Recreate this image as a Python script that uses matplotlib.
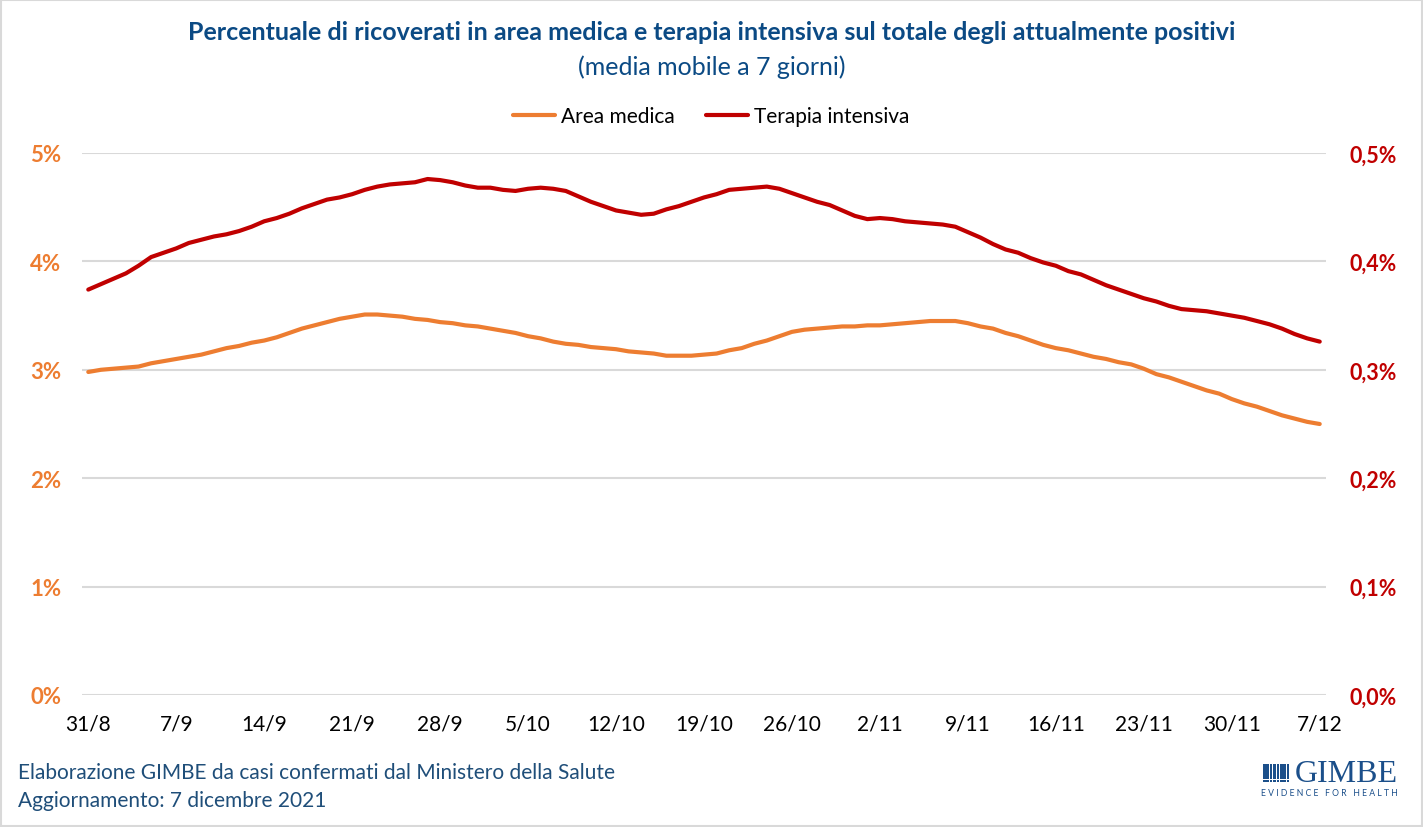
import matplotlib
matplotlib.use('Agg')
import matplotlib.pyplot as plt
import numpy as np
from matplotlib.patches import Rectangle

# Data: 7-day moving average, 31/8/2021 -> 7/12/2021 (one value per day) #

start_date = '2021-08-31'
n_days = 99

area_medica = [2.98, 3.00, 3.01, 3.02, 3.03, 3.06, 3.08, 3.10, 3.12, 3.14,
               3.17, 3.20, 3.22, 3.25, 3.27, 3.30, 3.34, 3.38, 3.41, 3.44,
               3.47, 3.49, 3.51, 3.51, 3.50, 3.49, 3.47, 3.46, 3.44, 3.43,
               3.41, 3.40, 3.38, 3.36, 3.34, 3.31, 3.29, 3.26, 3.24, 3.23,
               3.21, 3.20, 3.19, 3.17, 3.16, 3.15, 3.13, 3.13, 3.13, 3.14,
               3.15, 3.18, 3.20, 3.24, 3.27, 3.31, 3.35, 3.37, 3.38, 3.39,
               3.40, 3.40, 3.41, 3.41, 3.42, 3.43, 3.44, 3.45, 3.45, 3.45,
               3.43, 3.40, 3.38, 3.34, 3.31, 3.27, 3.23, 3.20, 3.18, 3.15,
               3.12, 3.10, 3.07, 3.05, 3.01, 2.96, 2.93, 2.89, 2.85, 2.81,
               2.78, 2.73, 2.69, 2.66, 2.62, 2.58, 2.55, 2.52, 2.50]

terapia_intensiva = [0.374, 0.379, 0.384, 0.389, 0.396, 0.404, 0.408, 0.412, 0.417, 0.420,
                     0.423, 0.425, 0.428, 0.432, 0.437, 0.440, 0.444, 0.449, 0.453, 0.457,
                     0.459, 0.462, 0.466, 0.469, 0.471, 0.472, 0.473, 0.476, 0.475, 0.473,
                     0.470, 0.468, 0.468, 0.466, 0.465, 0.467, 0.468, 0.467, 0.465, 0.460,
                     0.455, 0.451, 0.447, 0.445, 0.443, 0.444, 0.448, 0.451, 0.455, 0.459,
                     0.462, 0.466, 0.467, 0.468, 0.469, 0.467, 0.463, 0.459, 0.455, 0.452,
                     0.447, 0.442, 0.439, 0.440, 0.439, 0.437, 0.436, 0.435, 0.434, 0.432,
                     0.427, 0.422, 0.416, 0.411, 0.408, 0.403, 0.399, 0.396, 0.391, 0.388,
                     0.383, 0.378, 0.374, 0.370, 0.366, 0.363, 0.359, 0.356, 0.355, 0.354,
                     0.352, 0.350, 0.348, 0.345, 0.342, 0.338, 0.333, 0.329, 0.326]

left_ticks = [0, 1, 2, 3, 4, 5]
right_ticks = [0.0, 0.1, 0.2, 0.3, 0.4, 0.5]

dates = np.arange(np.datetime64(start_date), np.datetime64(start_date) + n_days)
x = np.arange(n_days)
tick_idx = x[::7]
tick_labels = ['%d/%d' % (d.astype(object).day, d.astype(object).month) for d in dates[::7]]

# Style #

ORANGE = '#ED7D31'
RED = '#C00000'
BLUE = '#0B4A84'
FOOT = '#1F4E79'
GRID = '#D9D9D9'
FONT = ['Lato', 'DejaVu Sans']
plt.rcParams['font.family'] = FONT

fig = plt.figure(figsize=(14.23, 8.28), dpi=100)
ax = fig.add_axes([82/1423, 132/828, (1326-82)/1423, (696-154)/828])
ax2 = ax.twinx()

ax.plot(x, area_medica, color=ORANGE, lw=3, solid_capstyle='round', label='Area medica')
ax2.plot(x, terapia_intensiva, color=RED, lw=3, solid_capstyle='round', label='Terapia intensiva')

ax.set_xlim(-0.5, n_days - 0.5)
ax.set_ylim(0, 5)
ax2.set_ylim(0, 0.5)

ax.set_yticks(left_ticks)
ax.set_yticklabels(['%d%%' % t for t in left_ticks], color=ORANGE, fontweight='bold', fontsize=16)
ax2.set_yticks(right_ticks)
ax2.set_yticklabels([('%.1f%%' % t).replace('.', ',') for t in right_ticks],
                    color=RED, fontweight='bold', fontsize=15.5)
ax.set_xticks(tick_idx)
ax.set_xticklabels(tick_labels, fontsize=15)

ax.tick_params(axis='y', length=0, pad=15)
ax2.tick_params(axis='y', length=0, pad=17)
ax.tick_params(axis='x', length=0, pad=13)

ax.grid(axis='y', color=GRID, lw=1.5)
ax.set_axisbelow(True)
for a in (ax, ax2):
    for s in a.spines.values():
        s.set_visible(False)

# Titles and legend #

fig.text(0.5, 1 - 33/828, 'Percentuale di ricoverati in area medica e terapia intensiva sul totale degli attualmente positivi',
         ha='center', va='center', color=BLUE, fontsize=18, fontweight='bold')
fig.text(0.5, 1 - 67/828, '(media mobile a 7 giorni)', ha='center', va='center', color=BLUE, fontsize=18)

h1, l1 = ax.get_legend_handles_labels()
h2, l2 = ax2.get_legend_handles_labels()
fig.legend(h1 + h2, l1 + l2, loc='center', bbox_to_anchor=(0.5, 1 - 117/828), ncol=2,
           frameon=False, fontsize=15, handlelength=2.0, handletextpad=0.3, columnspacing=1.5)

# Footer #

fig.text(18/1423, 1 - 773/828, 'Elaborazione GIMBE da casi confermati dal Ministero della Salute',
         ha='left', va='center', color=FOOT, fontsize=15)
fig.text(18/1423, 1 - 801/828, 'Aggiornamento: 7 dicembre 2021',
         ha='left', va='center', color=FOOT, fontsize=15)

# GIMBE logo (squares grid + text) #

LOGO = '#1B4F8A'
for i in range(6):
    for j in range(8):
        fig.patches.append(Rectangle(((1263 + j*3.4)/1423, 1 - (765 + i*3.1 + 2.6)/828), 2.6/1423, 2.6/828,
                                     transform=fig.transFigure, color=LOGO, lw=0))
fig.text(1295/1423, 1 - 775/828, 'GIMBE', ha='left', va='center', color=LOGO, fontsize=23,
         family='Liberation Serif')
fig.text(1329/1423, 1 - 794/828, 'E V I D E N C E   F O R   H E A L T H', ha='center', va='center',
         color=LOGO, fontsize=6.2)

# Chart border #

fig.patches.append(Rectangle((0.001, 0.001), 0.998, 0.998, transform=fig.transFigure,
                             fill=False, edgecolor=GRID, lw=1.5))

fig.savefig('out.png', dpi=100)
